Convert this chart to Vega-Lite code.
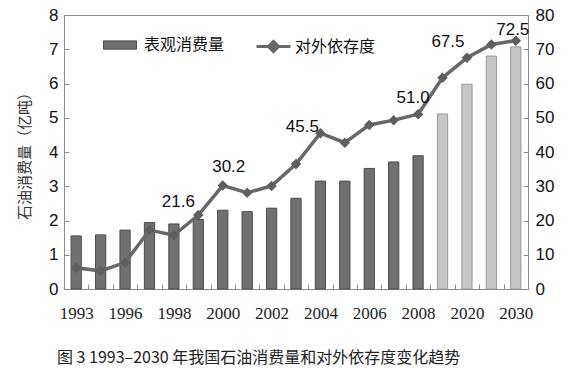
{
  "$schema": "https://vega.github.io/schema/vega-lite/v6.json",
  "width": 464,
  "height": 274,
  "autosize": "none",
  "padding": {"left": 64, "top": 15, "right": 46, "bottom": 83},
  "background": "white",
  "config": {
    "view": {"stroke": "#8c8c8c", "strokeWidth": 1},
    "axis": {"domainColor": "#8c8c8c", "tickColor": "#8c8c8c", "grid": false}
  },
  "title": {
    "text": "图 3  1993–2030 年我国石油消费量和对外依存度变化趋势",
    "orient": "bottom",
    "anchor": "start",
    "frame": "group",
    "dx": -7,
    "offset": 29,
    "font": "Noto Sans CJK SC",
    "fontSize": 16,
    "fontWeight": "normal",
    "color": "#222"
  },
  "data": {
    "values": [
      {"year": "1993", "cons": 1.55, "dep": 6.2, "type": "实际"},
      {"year": "1995", "cons": 1.58, "dep": 5.3, "type": "实际"},
      {"year": "1996", "cons": 1.72, "dep": 7.7, "type": "实际"},
      {"year": "1997", "cons": 1.94, "dep": 17.2, "type": "实际"},
      {"year": "1998", "cons": 1.90, "dep": 15.7, "type": "实际"},
      {"year": "1999", "cons": 2.03, "dep": 21.6, "type": "实际"},
      {"year": "2000", "cons": 2.30, "dep": 30.2, "type": "实际"},
      {"year": "2001", "cons": 2.26, "dep": 28.1, "type": "实际"},
      {"year": "2002", "cons": 2.36, "dep": 30.1, "type": "实际"},
      {"year": "2003", "cons": 2.65, "dep": 36.5, "type": "实际"},
      {"year": "2004", "cons": 3.15, "dep": 45.5, "type": "实际"},
      {"year": "2005", "cons": 3.15, "dep": 42.7, "type": "实际"},
      {"year": "2006", "cons": 3.52, "dep": 47.9, "type": "实际"},
      {"year": "2007", "cons": 3.71, "dep": 49.3, "type": "实际"},
      {"year": "2008", "cons": 3.89, "dep": 51.0, "type": "实际"},
      {"year": "2010", "cons": 5.11, "dep": 61.7, "type": "预测"},
      {"year": "2020", "cons": 5.98, "dep": 67.5, "type": "预测"},
      {"year": "2025", "cons": 6.80, "dep": 71.4, "type": "预测"},
      {"year": "2030", "cons": 7.07, "dep": 72.5, "type": "预测"}
    ]
  },
  "encoding": {
    "x": {
      "field": "year",
      "type": "nominal",
      "sort": null,
      "scale": {"paddingInner": 0, "paddingOuter": 0},
      "axis": {
        "title": null,
        "labelAngle": 0,
        "tickBand": "extent",
        "tickSize": -5,
        "labelPadding": 21,
        "labelFont": "Liberation Serif",
        "labelFontSize": 17,
        "labelColor": "#222",
        "labelExpr": "indexof(['1993','1996','1998','2000','2002','2004','2006','2008','2020','2030'], datum.value) >= 0 ? datum.value : ''"
      }
    }
  },
  "layer": [
    {
      "encoding": {
        "y": {
          "field": "cons",
          "type": "quantitative",
          "scale": {"domain": [0, 8], "nice": false},
          "axis": {
            "title": "石油消费量（亿吨）",
            "values": [0, 1, 2, 3, 4, 5, 6, 7, 8],
            "tickSize": -5,
            "labelPadding": 11,
            "labelFont": "Liberation Sans",
            "labelFontSize": 17,
            "labelColor": "#111",
            "titleFont": "Noto Sans CJK SC",
            "titleFontSize": 15,
            "titleFontWeight": "normal",
            "titleColor": "#333",
            "titlePadding": 16
          }
        }
      },
      "layer": [
        {
          "transform": [{"filter": "datum.type === '实际'"}],
          "mark": {"type": "bar", "width": {"band": 0.42}, "stroke": "#4d4d4d", "strokeWidth": 1},
          "encoding": {
            "fill": {
              "datum": "表观消费量",
              "scale": {"range": ["#707070"]},
              "legend": {
                "title": null,
                "orient": "none",
                "legendX": 39,
                "legendY": 13,
                "padding": 0,
                "symbolType": "M-1,-0.25H1V0.25H-1Z",
                "symbolSize": 1089,
                "symbolStrokeColor": "#4d4d4d",
                "symbolStrokeWidth": 1,
                "labelOffset": 7,
                "labelFont": "Noto Sans CJK SC",
                "labelFontSize": 16,
                "labelColor": "#111"
              }
            }
          }
        },
        {
          "transform": [{"filter": "datum.type === '预测'"}],
          "mark": {"type": "bar", "width": {"band": 0.42}, "fill": "#c6c6c6", "stroke": "#999999", "strokeWidth": 1}
        }
      ]
    },
    {
      "encoding": {
        "y": {
          "field": "dep",
          "type": "quantitative",
          "scale": {"domain": [0, 80], "nice": false},
          "axis": {
            "orient": "right",
            "title": null,
            "values": [0, 10, 20, 30, 40, 50, 60, 70, 80],
            "tickSize": -5,
            "labelPadding": 12,
            "labelFont": "Liberation Sans",
            "labelFontSize": 17,
            "labelColor": "#111"
          }
        }
      },
      "layer": [
        {
          "mark": {"type": "line", "strokeWidth": 3.5},
          "encoding": {
            "stroke": {
              "datum": "对外依存度",
              "scale": {"range": ["#686868"]},
              "legend": {
                "title": null,
                "orient": "none",
                "legendX": 191,
                "legendY": 13,
                "padding": 0,
                "symbolType": "M-1,0H1M0,-0.3L0.3,0L0,0.3L-0.3,0Z",
                "symbolSize": 1156,
                "symbolStrokeWidth": 3,
                "symbolFillColor": "#5e5e5e",
                "labelOffset": 3,
                "labelFont": "Noto Sans CJK SC",
                "labelFontSize": 16,
                "labelColor": "#111"
              }
            }
          }
        },
        {
          "mark": {"type": "point", "shape": "diamond", "filled": true, "size": 110, "color": "#5e5e5e", "opacity": 1}
        },
        {
          "transform": [{"filter": "datum.year === '1999'"}],
          "mark": {"type": "text", "dx": -20, "dy": -13, "font": "Liberation Sans", "fontSize": 17, "color": "#111", "baseline": "middle"},
          "encoding": {"text": {"field": "dep", "type": "quantitative", "format": ".1f"}}
        },
        {
          "transform": [{"filter": "datum.year === '2000'"}],
          "mark": {"type": "text", "dx": 6, "dy": -19, "font": "Liberation Sans", "fontSize": 17, "color": "#111", "baseline": "middle"},
          "encoding": {"text": {"field": "dep", "type": "quantitative", "format": ".1f"}}
        },
        {
          "transform": [{"filter": "datum.year === '2004'"}],
          "mark": {"type": "text", "dx": -18, "dy": -6, "font": "Liberation Sans", "fontSize": 17, "color": "#111", "baseline": "middle"},
          "encoding": {"text": {"field": "dep", "type": "quantitative", "format": ".1f"}}
        },
        {
          "transform": [{"filter": "datum.year === '2008'"}],
          "mark": {"type": "text", "dx": -5, "dy": -16, "font": "Liberation Sans", "fontSize": 17, "color": "#111", "baseline": "middle"},
          "encoding": {"text": {"field": "dep", "type": "quantitative", "format": ".1f"}}
        },
        {
          "transform": [{"filter": "datum.year === '2020'"}],
          "mark": {"type": "text", "dx": -19, "dy": -16, "font": "Liberation Sans", "fontSize": 17, "color": "#111", "baseline": "middle"},
          "encoding": {"text": {"field": "dep", "type": "quantitative", "format": ".1f"}}
        },
        {
          "transform": [{"filter": "datum.year === '2030'"}],
          "mark": {"type": "text", "dx": -3, "dy": -11, "font": "Liberation Sans", "fontSize": 17, "color": "#111", "baseline": "middle"},
          "encoding": {"text": {"field": "dep", "type": "quantitative", "format": ".1f"}}
        }
      ]
    }
  ],
  "resolve": {"scale": {"y": "independent", "fill": "independent", "stroke": "independent"}}
}
